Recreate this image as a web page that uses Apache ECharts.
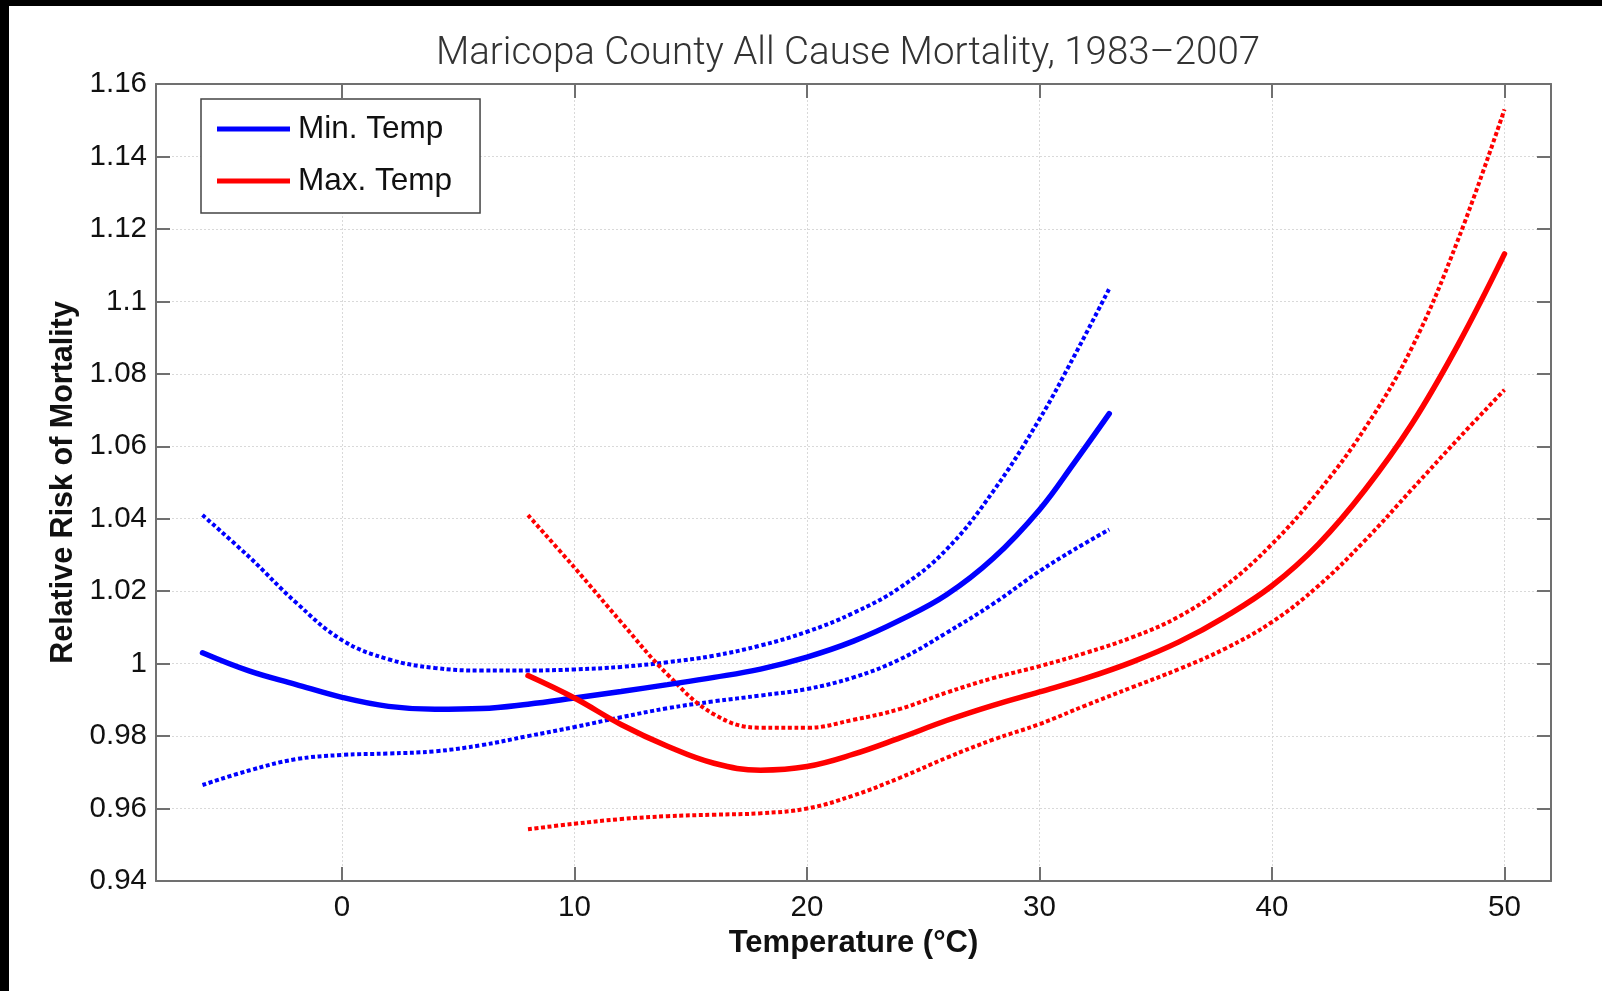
<!DOCTYPE html>
<html>
<head>
<meta charset="utf-8">
<title>Maricopa County All Cause Mortality, 1983–2007</title>
<script src="https://cdn.jsdelivr.net/npm/echarts@6/dist/echarts.min.js"></script>
<style>
  html, body { margin: 0; padding: 0; background: #fff; }
  #chart { width: 1602px; height: 991px; }
</style>
</head>
<body>
<div id="chart"></div>
<script>
// Temperature grids (°C) for the two exposure metrics
const minTemps = [-6, -4, -2, 0, 2, 4, 6, 8, 10, 12, 14, 16, 18, 20, 22, 24, 26, 28, 30, 31.5, 33];
const maxTemps = [8, 10, 12, 14, 16, 18, 20, 22, 24, 26, 28, 30, 32, 34, 36, 38, 40, 42, 44, 46, 48, 50];

// Relative risk for daily minimum temperature, with 95% confidence bounds
const minRR = [1.003, 0.998, 0.9943, 0.9907, 0.9882, 0.9874, 0.9876, 0.9888, 0.9905, 0.9923, 0.9942,
               0.9962, 0.9985, 1.0018, 1.0062, 1.0120, 1.0190, 1.0290, 1.0425, 1.0555, 1.069];
const minUpper = [1.041, 1.0295, 1.0170, 1.0065, 1.0012, 0.9988, 0.9981, 0.9981, 0.9984, 0.9991, 1.0004,
                  1.0022, 1.0050, 1.0088, 1.0140, 1.0210, 1.0315, 1.0475, 1.0675, 1.0850, 1.1035];
const minLower = [0.9665, 0.9705, 0.9736, 0.9748, 0.9752, 0.9758, 0.9775, 0.9800, 0.9825, 0.9852, 0.9877,
                  0.9896, 0.9912, 0.9930, 0.9962, 1.0012, 1.0085, 1.0165, 1.0255, 1.0315, 1.0370];

// Relative risk for daily maximum temperature, with 95% confidence bounds
const maxRR = [0.9967, 0.9905, 0.9832, 0.9772, 0.9725, 0.9706, 0.9716, 0.9750, 0.9795, 0.9843, 0.9885,
               0.9922, 0.9960, 1.0005, 1.0060, 1.0130, 1.0215, 1.0330, 1.0480, 1.0660, 1.0880, 1.1131];
const maxUpper = [1.041, 1.0265, 1.0115, 0.9970, 0.9860, 0.9823, 0.9823, 0.9845, 0.9875, 0.9920, 0.9960,
                  0.9993, 1.0030, 1.0073, 1.0130, 1.0215, 1.0330, 1.0475, 1.0650, 1.0870, 1.1170, 1.1530];
const maxLower = [0.9543, 0.9558, 0.9571, 0.9579, 0.9583, 0.9587, 0.9600, 0.9636, 0.9685, 0.9740, 0.9790,
                  0.9833, 0.9885, 0.9935, 0.9985, 1.0042, 1.0115, 1.0215, 1.0340, 1.0480, 1.0620, 1.0756];

const BLUE = '#0000ff';
const RED = '#ff0000';
const FONT = "'Liberation Sans', Arial, Helvetica, sans-serif";

const pairs = (xs, ys) => xs.map((x, i) => [x, ys[i]]);

function solid(name, xs, ys, color) {
  return {
    name, type: 'line', data: pairs(xs, ys), smooth: 0.4, showSymbol: false,
    itemStyle: { color }, lineStyle: { color, width: 5.5, cap: 'round' }, z: 3
  };
}
function dotted(name, xs, ys, color) {
  return {
    name, type: 'line', data: pairs(xs, ys), smooth: 0.4, showSymbol: false,
    itemStyle: { color }, lineStyle: { color, width: 4, type: [4, 2.6], cap: 'butt' }, z: 2
  };
}

const axisGray = '#707070';
const tickStyle = { show: true, inside: true, length: 14, lineStyle: { color: axisGray, width: 2 } };

const chart = echarts.init(document.getElementById('chart'), null, { renderer: 'canvas' });
chart.setOption({
  animation: false,
  backgroundColor: '#ffffff',
  title: {
    text: 'Maricopa County All Cause Mortality, 1983–2007',
    left: 843, top: 30, textAlign: 'center',
    textStyle: { fontFamily: "Roboto, 'Liberation Sans', sans-serif", fontWeight: 300, fontSize: 38.5, color: '#333' }
  },
  legend: {
    data: ['Min. Temp', 'Max. Temp'],
    orient: 'vertical', left: 201, top: 99,
    padding: [14, 28, 16, 16],
    itemGap: 20, itemWidth: 73, itemHeight: 5, icon: 'rect',
    borderColor: '#444', borderWidth: 1.5, backgroundColor: '#fff',
    textStyle: { fontFamily: FONT, fontSize: 31.5, lineHeight: 31, color: '#111', padding: [0, 0, 0, 3] }
  },
  grid: { left: 156, top: 84, right: 51, bottom: 110, containLabel: false, outerBoundsMode: 'none' },
  xAxis: [
    {
      type: 'value', min: -8, max: 52, splitNumber: 6, position: 'bottom',
      name: 'Temperature (°C)', nameLocation: 'middle', nameGap: 37,
      nameTextStyle: { fontFamily: FONT, fontWeight: 'bold', fontSize: 31, color: '#111' },
      axisLine: { show: true, onZero: false, lineStyle: { color: axisGray, width: 2 } },
      axisTick: tickStyle,
      axisLabel: {
        margin: 12, fontFamily: FONT, fontSize: 29.5, color: '#111',
        showMinLabel: false, showMaxLabel: false,
        formatter: v => (v % 10 === 0 ? String(v) : '')
      },
      splitLine: { show: true, lineStyle: { color: '#d9d9d9', width: 1, type: [2, 2] } }
    },
    {
      type: 'value', min: -8, max: 52, splitNumber: 6, position: 'top',
      axisLine: { show: true, onZero: false, lineStyle: { color: axisGray, width: 2 } },
      axisTick: tickStyle, axisLabel: { show: false }, splitLine: { show: false }
    }
  ],
  yAxis: [
    {
      type: 'value', min: 0.94, max: 1.16, interval: 0.02, position: 'left',
      name: 'Relative Risk of Mortality', nameLocation: 'middle', nameGap: 77, nameRotate: 90,
      nameTextStyle: { fontFamily: FONT, fontWeight: 'bold', fontSize: 30.5, color: '#111' },
      axisLine: { show: true, onZero: false, lineStyle: { color: axisGray, width: 2 } },
      axisTick: tickStyle,
      axisLabel: {
        margin: 9, fontFamily: FONT, fontSize: 29.5, color: '#111',
        formatter: v => String(+v.toFixed(2))
      },
      splitLine: { show: true, lineStyle: { color: '#d9d9d9', width: 1, type: [2, 2] } }
    },
    {
      type: 'value', min: 0.94, max: 1.16, interval: 0.02, position: 'right',
      axisLine: { show: true, onZero: false, lineStyle: { color: axisGray, width: 2 } },
      axisTick: tickStyle, axisLabel: { show: false }, splitLine: { show: false }
    }
  ],
  series: [
    dotted('Min. Temp upper bound', minTemps, minUpper, BLUE),
    dotted('Min. Temp lower bound', minTemps, minLower, BLUE),
    solid('Min. Temp', minTemps, minRR, BLUE),
    dotted('Max. Temp upper bound', maxTemps, maxUpper, RED),
    dotted('Max. Temp lower bound', maxTemps, maxLower, RED),
    solid('Max. Temp', maxTemps, maxRR, RED)
  ],
  graphic: [
    { type: 'rect', shape: { x: 0, y: 0, width: 1602, height: 6 }, style: { fill: '#000' }, z: 100 },
    { type: 'rect', shape: { x: 0, y: 0, width: 9, height: 991 }, style: { fill: '#000' }, z: 100 }
  ]
});
</script>
</body>
</html>
